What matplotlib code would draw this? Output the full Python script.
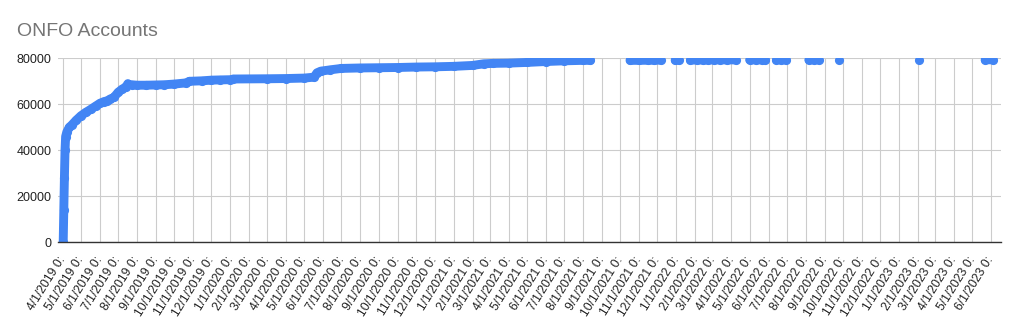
import numpy as np
import pandas as pd
import matplotlib
matplotlib.use("Agg")
import matplotlib.pyplot as plt
import matplotlib.dates as mdates
from matplotlib.transforms import ScaledTranslation

# account totals; None marks a gap in the data
dates = [
    "2019-04-02", "2019-04-03", "2019-04-04", "2019-04-05", "2019-04-06",
    "2019-04-08", "2019-04-12", "2019-04-16", "2019-04-23", "2019-05-01",
    "2019-05-09", "2019-05-17", "2019-05-25", "2019-06-01", "2019-06-08",
    "2019-06-13", "2019-06-18", "2019-06-24", "2019-07-01", "2019-07-07",
    "2019-07-14", "2019-07-17", "2019-07-20", "2019-07-23", "2019-08-01",
    "2019-08-15", "2019-09-01", "2019-09-15", "2019-10-01", "2019-10-20",
    "2019-10-26", "2019-11-15", "2019-12-01", "2019-12-15", "2020-01-01",
    "2020-01-06", "2020-03-01", "2020-04-01", "2020-05-01", "2020-05-17",
    "2020-05-22", "2020-05-28", "2020-06-13", "2020-07-01", "2020-08-01",
    "2020-09-01", "2020-10-01", "2020-11-01", "2020-12-01", "2021-01-01",
    "2021-02-01", "2021-02-19", "2021-03-07", "2021-04-01", "2021-05-01",
    "2021-06-01", "2021-07-01", "2021-08-01", "2021-08-13",
    "2021-09-15",
    "2021-10-17", "2021-11-01", "2021-11-15", "2021-11-25", "2021-12-06",
    "2021-12-18",
    "2021-12-30", "2022-01-05",
    "2022-01-15",
    "2022-01-24", "2022-02-03", "2022-02-13", "2022-02-22", "2022-03-04",
    "2022-03-13", "2022-03-25", "2022-04-08",
    "2022-04-20",
    "2022-05-01", "2022-05-11", "2022-05-21", "2022-05-27",
    "2022-06-08",
    "2022-06-14", "2022-06-22", "2022-06-30",
    "2022-07-20",
    "2022-08-06", "2022-08-14", "2022-08-22",
    "2022-09-10",
    "2022-09-25",
    "2022-11-15",
    "2023-02-03",
    "2023-04-01",
    "2023-05-22", "2023-06-04",
]
accounts = [
    0, 14000, 28000, 40000, 46000,
    48000, 50000, 51000, 53000, 55000,
    56500, 57800, 59200, 60400, 61200,
    61500, 62300, 63000, 65200, 66500,
    67600, 69000, None, 68500, 68300,
    68300, 68400, 68500, 68800, 69300,
    70000, 70200, 70500, 70600, 70700,
    71000, 71100, 71200, 71400, 71800,
    73700, 74400, 75000, 75600, 75800,
    75900, 76000, 76200, 76300, 76500,
    76900, 77600, 77800, 77900, 78200,
    78600, 78900, 79100, 79100,
    None,
    79100, 79100, 79150, 79150, 79200,
    None,
    79200, 79200,
    None,
    79200, 79250, 79250, 79250, 79300,
    79300, 79300, 79300,
    None,
    79300, 79300, 79300, 79300,
    None,
    79300, 79300, 79300,
    None,
    79300, 79300, 79300,
    None,
    79300,
    None,
    79350,
    None,
    79350, 79350,
]

month_ticks = pd.date_range("2019-04-01", "2023-06-01", freq="MS")
tick_labels = [f"{d.month}/{d.day}/{d.year} 0:" for d in month_ticks]
y_ticks = [0, 20000, 40000, 60000, 80000]

df = pd.DataFrame({"date": pd.to_datetime(dates),
                   "accounts": pd.to_numeric(pd.Series(accounts, dtype="float"))})

W, H = 1018, 331
fig = plt.figure(figsize=(W / 100, H / 100), dpi=100)
ax = fig.add_axes([57.7 / W, 1 - 242.3 / H, (1001 - 57.7) / W, (242.3 - 58.3) / H])

ax.plot(df["date"], df["accounts"], color="#4285F4", lw=6.4,
        solid_capstyle="round", solid_joinstyle="round",
        marker="o", ms=6.6, mew=0, zorder=3)

ax.set_xlim(pd.Timestamp("2019-03-24"), pd.Timestamp("2023-06-17"))
ax.set_ylim(0, 80000)

ax.set_yticks(y_ticks)
ax.set_yticklabels([str(v) for v in y_ticks])
ax.set_xticks(month_ticks)
ax.set_xticklabels(tick_labels, rotation=58, ha="right", va="center",
                   rotation_mode="anchor")
shift = ScaledTranslation(8 / 100, 0, fig.dpi_scale_trans)
for lab in ax.get_xticklabels():
    lab.set_transform(lab.get_transform() + shift)

ax.tick_params(axis="y", length=0, pad=4.5, labelsize=9, labelcolor="#222222")
ax.tick_params(axis="x", length=0, pad=11, labelsize=8.8, labelcolor="#222222")
for lab in ax.get_xticklabels() + ax.get_yticklabels():
    lab.set_fontfamily("Liberation Sans")

ax.grid(True, color="#cccccc", lw=0.8)
ax.set_axisbelow(True)
for side in ["left", "right", "top"]:
    ax.spines[side].set_visible(False)
ax.spines["bottom"].set_color("#333333")
ax.spines["bottom"].set_linewidth(1.0)
ax.spines["bottom"].set_zorder(4)

fig.text(17.3 / W, 1 - 35.7 / H, "ONFO Accounts", fontsize=14, color="#757575",
         family="Liberation Sans", va="baseline", ha="left")

fig.savefig("out.png", dpi=100)
